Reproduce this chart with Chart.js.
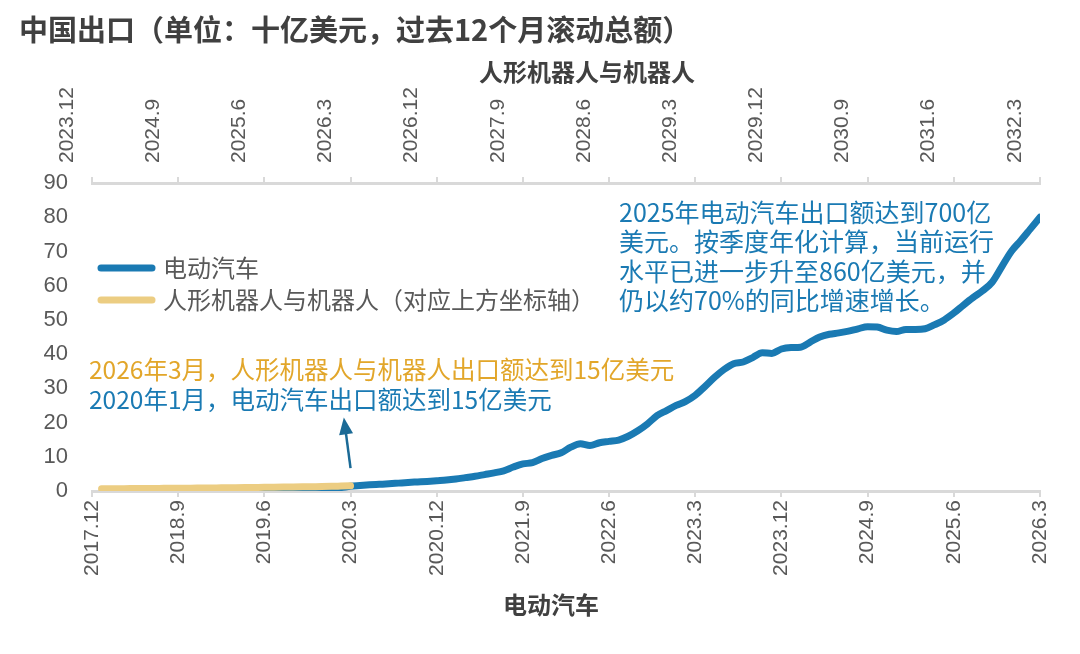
<!DOCTYPE html>
<html>
<head>
<meta charset="utf-8">
<script src="https://cdn.jsdelivr.net/npm/chart.js@4.4.1/dist/chart.umd.min.js"></script>
<style>
  html, body { margin: 0; padding: 0; background: #fff; }
  #wrap { width: 1080px; height: 654px; }
</style>
</head>
<body>
<div id="wrap"><canvas id="chart" width="1080" height="654"></canvas></div>
<script>
// month index 0 = 2017.12 on the bottom axis, 2023.12 on the top axis
const bottomTicks = ['2017.12', '2018.9', '2019.6', '2020.3', '2020.12', '2021.9', '2022.6', '2023.3', '2023.12', '2024.9', '2025.6', '2026.3'];
const topTicks = ['2023.12', '2024.9', '2025.6', '2026.3', '2026.12', '2027.9', '2028.6', '2029.3', '2029.12', '2030.9', '2031.6', '2032.3'];

// EV exports, USD bn, 12m rolling, from 2019.1 (index 13) to 2026.3 (index 99)
const evStart = 13;
const evValues = [
  0.05, 0.08, 0.1, 0.13, 0.16, 0.2, 0.25, 0.3, 0.36, 0.43, 0.52, 0.62,
  0.75, 1.0, 1.4, 1.6, 1.8, 1.95, 2.1, 2.3, 2.5, 2.65, 2.8, 3.0,
  3.2, 3.5, 3.9, 4.3, 4.8, 5.3, 5.9, 7.0, 7.9, 8.3, 9.5, 10.4,
  11.2, 12.8, 13.8, 13.3, 14.1, 14.5, 14.9, 16.0, 17.6, 19.6, 22.0, 23.5,
  25.0, 26.2, 28.0, 30.5, 33.2, 35.5, 37.2, 37.7, 39.0, 40.4, 40.2, 41.5,
  41.9, 42.0, 43.5, 45.0, 45.8, 46.2, 46.7, 47.4, 48.0, 47.9, 47.0, 46.6,
  47.2, 47.2, 47.4, 48.6, 50.0, 52.0, 54.3, 56.5, 58.5, 61.0, 65.5, 70.0,
  73.2, 76.6, 80.0
];

// humanoid robots & robots, USD bn, from 2024.1 (index 1) to 2026.3 (index 27), top axis
const robotStart = 1;
const robotValues = [
  0.65, 0.66, 0.68, 0.70, 0.72, 0.74, 0.76, 0.78, 0.80, 0.83, 0.86, 0.88,
  0.91, 0.94, 0.97, 1.0, 1.03, 1.06, 1.1, 1.14, 1.18, 1.22, 1.26, 1.3,
  1.36, 1.43, 1.5
];

const mainTitle = '中国出口（单位：十亿美元，过去12个月滚动总额）';
const evName = '电动汽车';
const robotName = '人形机器人与机器人';
const robotLegend = '人形机器人与机器人（对应上方坐标轴）';
const noteRobot = '2026年3月，人形机器人与机器人出口额达到15亿美元';
const noteEv = '2020年1月，电动汽车出口额达到15亿美元';
const noteRight = ['2025年电动汽车出口额达到700亿', '美元。按季度年化计算，当前运行', '水平已进一步升至860亿美元，并', '仍以约70%的同比增速增长。'];

const BLUE = '#1a7ab3';
const YELLOW = '#eccd82';
const GOLD = '#e2a62a';
const GREY = '#595959';
const DARK = '#404040';
const AXIS = '#d9d9d9';
const CJK = '"Noto Sans CJK SC", "Noto Sans", sans-serif';
const LATIN = '"Liberation Sans", Arial, sans-serif';

const evPoints = evValues.map((v, i) => ({ x: evStart + i, y: v }));
const robotPoints = robotValues.map((v, i) => ({ x: robotStart + i, y: v }));

const overlay = {
  id: 'overlay',
  afterDraw(chart) {
    const ctx = chart.ctx;
    const xs = chart.scales.x;
    const ys = chart.scales.y;
    ctx.save();
    ctx.textBaseline = 'middle';
    ctx.textAlign = 'left';

    ctx.fillStyle = DARK;
    ctx.font = 'bold 29px ' + CJK;
    ctx.fillText(mainTitle, 19, 30);

    // axis titles
    ctx.textAlign = 'center';
    ctx.font = 'bold 24px ' + CJK;
    ctx.fillText(robotName, 587, 72);
    ctx.fillText(evName, 551, 605);
    ctx.textAlign = 'left';

    // legend
    [[BLUE, evName], [YELLOW, robotLegend]].forEach(([color, text], k) => {
      const ly = 268 + k * 32;
      ctx.strokeStyle = color;
      ctx.lineWidth = 7;
      ctx.lineCap = 'round';
      ctx.beginPath();
      ctx.moveTo(101, ly);
      ctx.lineTo(152, ly);
      ctx.stroke();
      ctx.fillStyle = GREY;
      ctx.font = '24px ' + CJK;
      ctx.fillText(text, 163, ly);
    });

    // notes
    ctx.font = '24.5px ' + CJK;
    ctx.fillStyle = GOLD;
    ctx.fillText(noteRobot, 89, 370);
    ctx.fillStyle = BLUE;
    ctx.fillText(noteEv, 89, 400);
    ctx.font = '25px ' + CJK;
    noteRight.forEach((line, k) => ctx.fillText(line, 619, 212 + k * 29.5));

    // arrow towards the 2020.3 point
    const x0 = xs.getPixelForValue(27), y0 = ys.getPixelForValue(6.7);
    const x1 = xs.getPixelForValue(26.3), y1 = ys.getPixelForValue(21.5);
    const ang = Math.atan2(y1 - y0, x1 - x0);
    ctx.strokeStyle = '#1b6a96';
    ctx.fillStyle = '#1b6a96';
    ctx.lineWidth = 2.5;
    ctx.lineCap = 'butt';
    ctx.beginPath();
    ctx.moveTo(x0, y0);
    ctx.lineTo(x1 - 12 * Math.cos(ang), y1 - 12 * Math.sin(ang));
    ctx.stroke();
    ctx.beginPath();
    ctx.moveTo(x1, y1);
    ctx.lineTo(x1 - 17 * Math.cos(ang) + 7 * Math.sin(ang), y1 - 17 * Math.sin(ang) - 7 * Math.cos(ang));
    ctx.lineTo(x1 - 17 * Math.cos(ang) - 7 * Math.sin(ang), y1 - 17 * Math.sin(ang) + 7 * Math.cos(ang));
    ctx.closePath();
    ctx.fill();
    ctx.restore();
  }
};

function timeAxis(position, labels, fitHeight) {
  return {
    type: 'linear',
    position: position,
    min: 0,
    max: 99,
    grid: { display: true, drawOnChartArea: false, drawTicks: true, tickLength: 6, color: AXIS, lineWidth: 2 },
    border: { display: true, color: AXIS, width: 3 },
    ticks: {
      stepSize: 9,
      autoSkip: false,
      maxRotation: 90,
      minRotation: 90,
      padding: position === 'top' ? 14 : 3,
      color: GREY,
      font: { family: LATIN, size: 21 },
      callback: v => labels[Math.round(v / 9)]
    },
    afterFit: s => { s.height = fitHeight; }
  };
}

new Chart(document.getElementById('chart').getContext('2d'), {
  type: 'line',
  data: {
    datasets: [
      {
        label: robotName,
        data: robotPoints,
        xAxisID: 'x2',
        yAxisID: 'y',
        borderColor: YELLOW,
        borderWidth: 7,
        borderCapStyle: 'round',
        pointRadius: 0,
        cubicInterpolationMode: 'monotone'
      },
      {
        label: evName,
        data: evPoints,
        xAxisID: 'x',
        yAxisID: 'y',
        borderColor: BLUE,
        borderWidth: 7,
        borderCapStyle: 'round',
        borderJoinStyle: 'round',
        pointRadius: 0,
        cubicInterpolationMode: 'monotone'
      }
    ]
  },
  options: {
    responsive: false,
    animation: false,
    layout: { padding: { left: 0, right: 40, top: 0, bottom: 0 } },
    plugins: {
      legend: { display: false },
      title: { display: false },
      tooltip: { enabled: false }
    },
    scales: {
      x: timeAxis('bottom', bottomTicks, 163),
      x2: timeAxis('top', topTicks, 183),
      y: {
        min: 0,
        max: 90,
        grid: { display: false, drawTicks: false },
        border: { display: false },
        ticks: { stepSize: 10, padding: 24, color: GREY, font: { family: LATIN, size: 22 } },
        afterFit: s => { s.width = 92; }
      }
    }
  },
  plugins: [overlay]
});
</script>
</body>
</html>
